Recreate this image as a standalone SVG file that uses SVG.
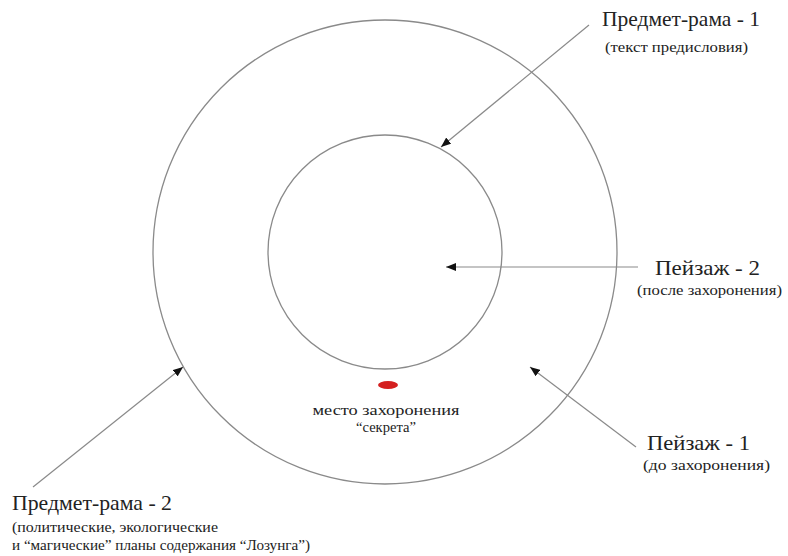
<svg xmlns="http://www.w3.org/2000/svg" width="788" height="556" viewBox="0 0 788 556">
<defs>
<marker id="ah" viewBox="0 0 10 8" refX="10" refY="4" markerWidth="10" markerHeight="8" markerUnits="userSpaceOnUse" orient="auto">
<path d="M0,0 L10,4 L0,8 Z" fill="#111"/>
</marker>
<style>
.ring{fill:none;stroke:#8a8a8a;stroke-width:1.3}
.con{stroke:#8a8a8a;stroke-width:1.2;fill:none;marker-end:url(#ah)}
.t1{font-family:"Liberation Serif","DejaVu Serif",serif;font-size:22px;fill:#222}
.t2{font-family:"Liberation Serif","DejaVu Serif",serif;font-size:15.5px;fill:#222}
</style>
</defs>
<rect width="788" height="556" fill="#fff"/>
<g id="outer-ring"><circle class="ring" cx="385" cy="252" r="232"/></g>
<g id="inner-ring"><circle class="ring" cx="385" cy="252" r="117"/></g>
<g id="burial-spot"><ellipse cx="388" cy="385" rx="10" ry="4" fill="#d42020"/></g>
<g id="connectors">
<line class="con" x1="589" y1="25" x2="441" y2="147"/>
<line class="con" x1="638" y1="267" x2="446" y2="267"/>
<line class="con" x1="636" y1="447" x2="530" y2="367"/>
<line class="con" x1="33" y1="487" x2="183" y2="367"/>
</g>
<g id="label-frame1">
<text class="t1" x="602" y="26" textLength="158" lengthAdjust="spacingAndGlyphs">Предмет-рама - 1</text>
<text class="t2" x="605" y="52" textLength="143" lengthAdjust="spacingAndGlyphs">(текст предисловия)</text>
</g>
<g id="label-landscape2">
<text class="t1" x="655" y="275" textLength="105" lengthAdjust="spacingAndGlyphs">Пейзаж - 2</text>
<text class="t2" x="637" y="295" textLength="145" lengthAdjust="spacingAndGlyphs">(после захоронения)</text>
</g>
<g id="label-burial">
<text class="t2" x="386" y="415" text-anchor="middle" textLength="147" lengthAdjust="spacingAndGlyphs">место захоронения</text>
<text class="t2" x="386" y="432" text-anchor="middle" textLength="60" lengthAdjust="spacingAndGlyphs">“секрета”</text>
</g>
<g id="label-landscape1">
<text class="t1" x="647" y="450" textLength="103" lengthAdjust="spacingAndGlyphs">Пейзаж - 1</text>
<text class="t2" x="643" y="470" textLength="127" lengthAdjust="spacingAndGlyphs">(до захоронения)</text>
</g>
<g id="label-frame2">
<text class="t1" x="12" y="510" textLength="160" lengthAdjust="spacingAndGlyphs">Предмет-рама - 2</text>
<text class="t2" x="12" y="532" textLength="206" lengthAdjust="spacingAndGlyphs">(политические, экологические</text>
<text class="t2" x="12" y="550" textLength="298" lengthAdjust="spacingAndGlyphs">и “магические” планы содержания “Лозунга”)</text>
</g>
</svg>
